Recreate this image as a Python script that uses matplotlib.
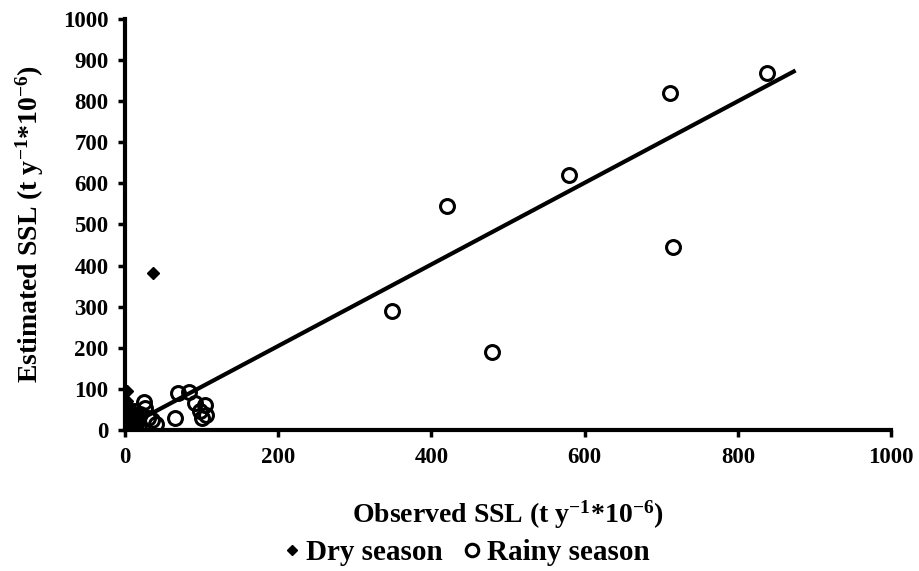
import matplotlib
matplotlib.use("Agg")
import matplotlib.pyplot as plt

plt.rcParams['font.family'] = ['Liberation Serif', 'DejaVu Serif']
plt.rcParams['font.weight'] = 'bold'
plt.rcParams['mathtext.fontset'] = 'custom'
plt.rcParams['mathtext.rm'] = 'Liberation Serif:bold'
plt.rcParams['mathtext.bf'] = 'Liberation Serif:bold'
plt.rcParams['mathtext.it'] = 'Liberation Serif:bold'
plt.rcParams['mathtext.default'] = 'bf'

# values
dry_x = [37, 2, 1, 3, 5, 8, 4, 10, 6, 2, 12, 15, 3, 7, 1, 20, 9, 14]
dry_y = [381, 95, 60, 45, 30, 20, 10, 15, 5, 25, 8, 12, 70, 3, 35, 40, 50, 28]

rainy_x = [838, 711, 715, 580, 420, 349, 479, 69, 83, 91, 104, 98, 106, 100,
           65, 24, 26, 20, 30, 15, 10, 35, 5, 12, 18, 40, 8]
rainy_y = [869, 819, 446, 620, 545, 290, 190, 89, 93, 65, 61, 45, 36, 28,
           28, 69, 53, 40, 30, 20, 10, 25, 5, 45, 12, 15, 35]

trend_x = [0, 873]
trend_y = [6, 872]

ticks = [0, 200, 400, 600, 800, 1000]
yticks = [0, 100, 200, 300, 400, 500, 600, 700, 800, 900, 1000]

fig = plt.figure(figsize=(9.2, 5.71), dpi=100)
ax = fig.add_axes([0.136, 0.247, 0.8325, 0.72])

ax.plot(trend_x, trend_y, color='black', linewidth=3, zorder=2)
ax.plot(dry_x, dry_y, linestyle='none', marker='D', markersize=6,
        color='black', label='Dry season', zorder=3)
ax.plot(rainy_x, rainy_y, linestyle='none', marker='o', markersize=10,
        markerfacecolor='none', markeredgecolor='black', markeredgewidth=2.2,
        label='Rainy season', zorder=3)

ax.set_xlim(0, 1000)
ax.set_ylim(0, 1000)
ax.set_xticks(ticks)
ax.set_yticks(yticks)
ax.tick_params(direction='out', length=5, width=2.5, labelsize=16.5, pad=7)
for lab in ax.get_xticklabels() + ax.get_yticklabels():
    lab.set_fontweight('bold')

for side in ['top', 'right']:
    ax.spines[side].set_visible(False)
for side in ['left', 'bottom']:
    ax.spines[side].set_linewidth(3)

ax.set_xlabel(r'Observed SSL (t y$^{-1}$*10$^{-6}$)',
              fontsize=20, fontweight='bold', labelpad=22)
ax.set_ylabel(r'Estimated SSL (t y$^{-1}$*10$^{-6}$)',
              fontsize=20, fontweight='bold', labelpad=12)

leg = fig.legend(loc='center', bbox_to_anchor=(0.505, 0.032), ncol=2,
                 frameon=False, fontsize=21, handletextpad=0.1,
                 columnspacing=0.6, handlelength=0.8, markerscale=0.9)
for t in leg.get_texts():
    t.set_fontweight('bold')

fig.savefig('out.png', dpi=100)
